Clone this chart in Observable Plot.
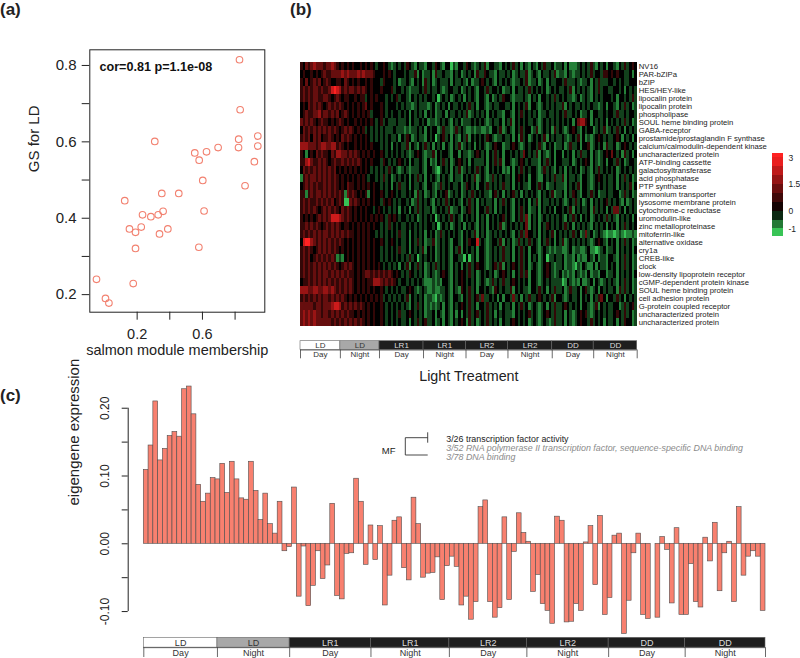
<!DOCTYPE html>
<html><head><meta charset="utf-8">
<script src="https://cdn.jsdelivr.net/npm/d3@7"></script>
<script src="https://cdn.jsdelivr.net/npm/@observablehq/plot@0.6"></script>
<style>
html,body{margin:0;padding:0;background:#fff;}
#chart{position:relative;width:800px;height:658px;font-family:"Liberation Sans",Arial,sans-serif;color:#222;}
.plab{position:absolute;font-weight:bold;font-size:17px;line-height:19px;white-space:nowrap;}
</style></head><body>
<div id="chart">
  <div class="plab" style="left:0px;top:0px">(a)</div>
  <div class="plab" style="left:290px;top:0px">(b)</div>
  <div class="plab" style="left:0px;top:386px">(c)</div>
</div>
<script>
// ---------------- data: panel (a) ----------------
const msX = [0.827,0.831,0.308,0.822,0.939,0.696,0.821,0.939,0.553,0.625,0.580,0.918,0.602,0.861,0.124,0.351,0.455,0.233,0.284,0.329,0.359,0.610,0.153,0.190,0.225,0.337,0.388,0.190,0.578,-0.049,0.176,0.006,0.027];
const gsY = [0.815,0.684,0.601,0.607,0.615,0.585,0.585,0.589,0.571,0.574,0.552,0.548,0.499,0.485,0.446,0.465,0.465,0.409,0.404,0.409,0.418,0.419,0.372,0.363,0.377,0.359,0.372,0.321,0.324,0.240,0.229,0.190,0.178];
const xTicksA = [0.2,0.4,0.6,0.8];
const xLabelsA = [0.2,0.6];
const yTicksA = [0.2,0.3,0.4,0.5,0.6,0.7,0.8];
const yLabelsA = [0.2,0.4,0.6,0.8];
const corText = "cor=0.81 p=1.1e-08";

// ---------------- data: panel (b) ----------------
const geneLabels = ["NV16","PAR-bZIPa","bZIP","HES/HEY-like","lipocalin protein","lipocalin protein","phospholipase","SOUL heme binding protein","GABA-receptor","prostamide/prostaglandin F synthase","calcium/calmodulin-dependent kinase","uncharacterized protein","ATP-binding cassette","galactosyltransferase","acid phosphatase","PTP synthase","ammonium transporter","lysosome membrane protein","cytochrome-c reductase","uromodulin-like","zinc metalloproteinase","mitoferrin-like","alternative oxidase","cry1a","CREB-like","clock","low-density lipoprotein receptor","cGMP-dependent protein kinase","SOUL heme binding protein","cell adhesion protein","G-protein coupled receptor","uncharacterized protein","uncharacterized protein"];
// expression level codes per sample (0 = -1.2 ... 3 = 0 ... 8 = 3.0), 130 samples per gene
const codeValues = [-1.2,-0.8,-0.4,0,0.6,1.2,1.8,2.4,3.0];
const heatCodes = [
"4354565554 5565434343 4334343432 3343212323 2432132213 3243213302 1332432123 2413322132 3242313213 2132422312 2313111232 3242132313 3213242343",
"3433434345 4455556565 5565655543 3343432333 2322413122 3142232213 2312323142 2432213223 2312322412 3213223241 2213212232 3242332443 4343322313",
"4353454534 5433443543 4343343433 3243332312 2321323142 3123222313 2232131223 4323213232 3212232412 2312313223 3242223212 2313242223 3232322333",
"4545455454 4578764545 5454543433 3433342332 3212223242 3223212332 2312323213 3242332312 2313223242 3232312323 2232413232 3213242332 2332313232",
"4545455445 5434543443 3434423434 3332323423 3213232323 3230232312 3231323213 3213123243 3212223213 2313323242 3232212312 3213232333 2313323242",
"3435454543 4545454343 4343453433 3432333232 3221232221 2312323132 2323242313 3212322332 2313232413 3212323232 2413232232 3232212313 3213242312",
"3454455645 5454534543 4343434233 3432323323 2313232313 2312231322 3232412323 2313232213 3213242323 2312232232 3242232312 2313322323 3242232332",
"5454543454 4343454343 3434343432 3423222322 2313223231 2212323213 2312223232 3212322313 2413232322 3212323232 3232313566 4313232313 2323242312",
"3545454545 4545434545 4343423232 3232223222 1212232313 2331242212 4232112122 1121332412 3213242331 2412323142 3212343213 2331232412 3242313232",
"4545354534 4543435454 3434343232 3232322313 2431232213 2302342313 2132413232 3243212232 2313142312 3232413232 2321232413 1212343232 2343132313",
"6665554566 5566454343 3434343433 3232313232 2413213242 3132313213 2412323132 3212343312 2343212323 3242132312 2312422313 3412323142 2312343232",
"4313435454 4354665545 4543434343 3432323232 3212343212 2413233213 3132212343 2313242313 3232325323 2413212313 3132313242 2313212343 5323142313",
"4467544545 4345445454 5454343433 3243232343 2313223213 1213242312 3432313222 2313242413 3212343232 2213242313 3222312323 4313212313 3242312332",
"3545454545 4545343434 3434343232 3232423212 3212223213 3210232313 2412323242 3213232312 1313242323 3212423213 2313232312 3213242323 2312323232",
"1454554545 4545434343 4343432332 3242312323 2313242313 2321323213 2213232412 3212423232 2313432313 3211323242 2413223213 3212343232 2313242312",
"3454545445 4545434354 4343434343 3232313242 2313223213 3212423232 2312432313 3242323242 2313232213 3242312232 2213232413 3212323232 2313232413",
"4414545545 4545454154 5434341343 3432343232 2323142312 3213234123 2312324232 3221342313 2342313232 3213232412 2313243213 3242312232 2331242312",
"4545445454 5453454005 4543434343 3243432323 3231242323 2132324232 3213242313 2322313242 3213232313 2413223232 3212324231 2313232342 3232131232",
"4545454345 4545435454 3434343323 4323232313 2313242322 3123232412 2312342313 3242313232 3213242312 2313232313 3232413232 2314232313 2552313232",
"4343434545 4577765454 3434343434 3432434323 3232312323 2302323242 3213232313 2313232342 3213242513 2312323232 3213242313 2312323242 3213232313",
"4454545434 5454543443 4343434343 3232423232 2323232323 3230232312 3231323213 2313232412 3232323513 2313243232 3242313232 3213232313 2313242323",
"4545454545 5454545454 4343434332 3232323242 2313232313 2312423232 3213232413 2312323232 3213242533 2313232413 2323242312 5231232101 1012101121",
"3788654545 4545454343 4343434343 3432343232 2313242312 2412323213 3213243372 3212332413 2312423242 3213242313 2412323232 3212343213 2313242312",
"4545434545 4545434343 4343434343 3232323242 2313232413 2312323213 2413232313 3212323242 2313242313 3212321212 2112312211 2311012312 2313232313",
"4545345454 5454121343 4343434343 3232323232 3242302323 2312323213 3220302313 3212323242 2313242313 2312302232 2312213121 1321312213 3213242312",
"4545454545 4545434545 4343434343 4323232313 2413242312 3242323213 2313242343 3212342413 2343242312 3212343212 2312210213 2113132213 2313242312",
"4545454545 5454545454 4343455454 5454543432 3243232312 3212343213 2343242312 3232312343 2313242413 3212343212 3121213212 1312213312 2313232313",
"3445454545 4545454545 4343434466 6545454323 3232323211 1212133213 2343232312 3212423242 2343232313 3212323222 2013212131 1231321232 3213242312",
"6665566556 6565454545 4343434343 3432323232 2343212321 1211223213 2143242313 3232143232 2413232213 3242313242 2312422313 4212313232 2314242312",
"4545454545 5454545434 3434343434 3423232323 2413232312 2102123213 3213242342 5223231313 3252313242 2343232413 3212322313 2313245313 3242313232",
"5555545545 5567764545 4545434343 3432323232 3213242312 1212313213 2343242313 3242323132 2313242312 3212313242 2343232313 3212413232 2331242342",
"5656565545 5454545454 4343434343 3432323242 2343232312 2313213213 1313242342 3242313232 2213232342 3212343242 2313212343 4212323232 2343242312",
"5656565555 5545454545 4545434343 3432323232 2313242342 2312313213 2343142312 3242323132 2343232312 3212321242 2313212343 3242323132 2313243312"
];
const legendTicks = [3,1.5,0,-1];
const legendBreaks = [-1.43,-1,-0.5,0,0.5,1,1.5,2,2.5,3,3.25];

// ---------------- data: sample annotation ----------------
const segCond = ["LD","LD","LR1","LR1","LR2","LR2","DD","DD"];
const segPhase = ["Day","Night","Day","Night","Day","Night","Day","Night"];
const segBounds = [0,15.4,30.5,47.5,63.9,80.1,97.2,113.2,130];

// ---------------- data: panel (c) ----------------
const eigengene = [0.109,0.145,0.210,0.123,0.140,0.159,0.165,0.158,0.228,0.232,
0.191,0.087,0.062,0.074,0.097,0.095,0.118,0.075,0.121,0.095,
0.067,0.065,0.121,0.078,0.035,0.074,0.029,0.015,0.062,-0.011,
-0.005,0.083,-0.078,-0.004,-0.092,-0.062,-0.011,-0.052,-0.032,0.059,
-0.077,-0.082,-0.015,-0.014,0.096,0.062,-0.031,0.027,-0.024,0.026,
-0.091,-0.047,0.034,0.039,-0.036,-0.054,0.068,0.029,-0.050,-0.044,
-0.043,-0.020,-0.083,-0.033,-0.019,-0.034,-0.091,-0.078,-0.112,-0.086,
0.054,0.064,-0.086,-0.109,-0.095,0.039,-0.083,-0.012,0.045,0.016,
0.003,-0.071,-0.046,-0.089,-0.099,-0.118,0.040,0.034,-0.116,-0.115,
-0.089,-0.099,0.002,0.026,-0.061,0.041,-0.105,-0.080,0.012,0.015,
-0.133,-0.084,-0.014,0.015,-0.105,-0.111,0.000,-0.109,0.010,-0.009,
-0.088,0.023,-0.105,-0.105,-0.030,-0.086,-0.094,0.009,-0.026,0.031,
-0.070,-0.014,0.003,-0.086,0.054,-0.047,-0.019,-0.011,-0.019,-0.099];
const yTicksC = [-0.10,-0.05,0,0.05,0.10,0.15,0.20];
const yLabelsC = [-0.10,0,0.10,0.20];
const goCategory = "MF";
const goCounts = ["3/26","3/52","3/78"];
const goTerms = ["transcription factor activity","RNA polymerase II transcription factor, sequence-specific DNA binding","DNA binding"];

// ---------------- build ----------------
const chart = document.getElementById("chart");
const FONT = "'Liberation Sans', Arial, Helvetica, sans-serif";
const W = 800, H = 658;
const baseStyle = {position:"absolute", left:"0px", top:"0px", fontFamily: FONT, overflow:"visible", background:"transparent"};
const has = (arr, d) => arr.some(a => Math.abs(a - d) < 1e-9);
const colorOpts = {type:"linear", domain:[-1.3,0,3], range:["#3cd25c","#000000","#ff2222"], interpolate:"rgb", clamp:true};

// panel (a)
const scatter = msX.map((x,i) => ({x, y: gsY[i]}));
chart.append(Plot.plot({
  width:W, height:H, marginLeft:89.3, marginRight:W-264.3, marginTop:49.3, marginBottom:H-311.7,
  style: baseStyle,
  x:{domain:[-0.09,0.982], axis:null}, y:{domain:[0.154,0.841], axis:null},
  marks:[
    Plot.frame({stroke:"#222", strokeWidth:1}),
    Plot.dot(scatter, {x:"x", y:"y", r:3.3, stroke:"#f2806f", strokeWidth:1.1, fill:"none"}),
    Plot.axisX({ticks:xTicksA, tickFormat:d => has(xLabelsA,d) ? d.toFixed(1) : "", tickSize:8, tickPadding:8.5, fontSize:14.5, stroke:"#222", fill:"#222", label:null}),
    Plot.axisY({ticks:yTicksA, tickFormat:d => has(yLabelsA,d) ? d.toFixed(1) : "", tickSize:7.6, tickPadding:5.6, fontSize:15, stroke:"#222", fill:"#222", label:null}),
    Plot.text([corText], {frameAnchor:"top-left", dx:9.7, dy:12.4, textAnchor:"start", fontWeight:"bold", fontSize:12.6, fill:"#111"}),
    Plot.text(["salmon module membership"], {frameAnchor:"bottom", dy:43, fontSize:14.5, fill:"#222"}),
    Plot.text(["GS for LD"], {frameAnchor:"left", dx:-56, dy:-8.8, rotate:-90, fontSize:15, fill:"#222"})
  ]
}));

// panel (b) heatmap
const cells = [];
heatCodes.forEach((s, r) => {
  s.replace(/\s/g,"").split("").forEach((ch, c) => cells.push({r, c, c2:c+1, v:codeValues[+ch]}));
});
chart.append(Plot.plot({
  width:W, height:H, marginLeft:300, marginRight:W-636.7, marginTop:48.7, marginBottom:H-339.7,
  style: baseStyle,
  x:{domain:[0,130], axis:null},
  y:{type:"band", domain:d3.range(geneLabels.length), padding:0, axis:null},
  color: colorOpts,
  marks:[
    Plot.barX(cells, {x1:"c", x2:"c2", y:"r", fill:"v", shapeRendering:"crispEdges"}),
    Plot.axisY({anchor:"right", tickSize:0, tickPadding:1.5, tickFormat:i => geneLabels[i], fontSize:7.7, fill:"#222", label:null}),
    Plot.text(["Light Treatment"], {frameAnchor:"bottom", dy:40.3, fontSize:14.3, fill:"#222"})
  ]
}));

// colour key
const legendBands = legendBreaks.slice(0,-1).map((lo,i) => ({lo, hi:legendBreaks[i+1], mid:(lo+legendBreaks[i+1])/2}));
chart.append(Plot.plot({
  width:W, height:H, marginLeft:772, marginRight:W-783, marginTop:153, marginBottom:H-236,
  style: baseStyle,
  x:{domain:[0,1], axis:null}, y:{domain:[legendBreaks[0], legendBreaks[legendBreaks.length-1]], axis:null},
  color: colorOpts,
  marks:[
    Plot.rect(legendBands, {x1:0, x2:1, y1:"lo", y2:"hi", fill:"mid", shapeRendering:"crispEdges"}),
    Plot.axisY({anchor:"right", ticks:legendTicks, tickSize:0, tickPadding:5, fontSize:8.5, fill:"#222", tickFormat:d => String(d), label:null})
  ]
}));

// sample annotation strips
const segs = segCond.map((cond,i) => ({
  cond, phase:segPhase[i], start:segBounds[i], end:segBounds[i+1], mid:(segBounds[i]+segBounds[i+1])/2,
  fill: i === 0 ? "#ffffff" : i === 1 ? "#a8a8a8" : "#1e1e1e",
  ink: i < 2 ? "#333333" : "#dddddd"
}));
function header(mL, mR, top, bottom, fs) {
  return Plot.plot({
    width:W, height:H, marginLeft:mL, marginRight:mR, marginTop:top, marginBottom:H-bottom,
    style: baseStyle,
    x:{domain:[0,130], axis:null}, y:{domain:[0,2], reverse:true, axis:null},
    color:{type:"identity"},
    marks:[
      Plot.rect(segs, {x1:"start", x2:"end", y1:0, y2:1, fill:"fill", stroke:"#666", strokeWidth:0.6}),
      Plot.text(segs, {x:"mid", y:0.5, text:"cond", fill:"ink", fontSize:fs}),
      Plot.ruleY([1], {stroke:"#444", strokeWidth:0.8}),
      Plot.ruleX(segBounds, {y1:1, y2:2, stroke:"#444", strokeWidth:0.8}),
      Plot.text(segs, {x:"mid", y:1.55, text:"phase", fill:"#333", fontSize:fs})
    ]
  });
}
chart.append(header(300, W-636.7, 340.7, 358.3, 8));
chart.append(header(143.3, W-765, 637.3, 657, 9));

// panel (c) bars
const xMinC = -3.26; // axis sits left of the first bar, in bar units
const bars = eigengene.map((v,i) => ({i, i2:i+1, v}));
function bracket(index, scales, values, dim) {
  const x0 = dim.marginLeft, y0 = dim.marginTop;
  const p = d3.path();
  p.moveTo(x0+300, y0+48.3); p.lineTo(x0+300, y0+58.7);
  p.moveTo(x0+300, y0+53.7); p.lineTo(x0+277.6, y0+53.7); p.lineTo(x0+277.6, y0+71); p.lineTo(x0+300, y0+71);
  return d3.create("svg:path").attr("d", p.toString()).attr("fill","none").attr("stroke","#333").attr("stroke-width",0.9).node();
}
const goMarks = goTerms.map((t,i) => Plot.text([goCounts[i] + " " + t], {
  frameAnchor:"top-left", dx:318, dy:51.3 + i*9.1, textAnchor:"start", fontSize:8.9,
  fill: i === 0 ? "#222" : "#8a8a8a", fontStyle: i === 0 ? "normal" : "italic"
}));
chart.append(Plot.plot({
  width:W, height:H, marginLeft:127.7, marginRight:W-765, marginTop:384, marginBottom:H-634.8,
  style: baseStyle,
  x:{domain:[xMinC,130], axis:null}, y:{domain:[-0.135,0.235], axis:null},
  marks:[
    Plot.rect(bars, {x1:"i", x2:"i2", y1:0, y2:"v", fill:"#f8806f", stroke:"#4d4d4d", strokeWidth:0.6}),
    Plot.ruleX([xMinC], {y1:yTicksC[0], y2:yTicksC[yTicksC.length-1], stroke:"#222"}),
    Plot.axisY({ticks:yTicksC, tickFormat:d => has(yLabelsC,d) ? (d < 0 ? "-" : "") + Math.abs(d).toFixed(2) : "", tickSize:6, tickPadding:13.4, tickRotate:-90, fontSize:12, stroke:"#222", fill:"#222", label:null}),
    Plot.text(["eigengene expression"], {frameAnchor:"left", dx:-54.4, dy:-4.4, rotate:-90, fontSize:15, fill:"#222"}),
    Plot.text([goCategory], {frameAnchor:"top-left", dx:267.3, dy:63, textAnchor:"end", fontSize:9.5, fill:"#222"}),
    bracket,
    ...goMarks
  ]
}));
</script>
</body></html>
